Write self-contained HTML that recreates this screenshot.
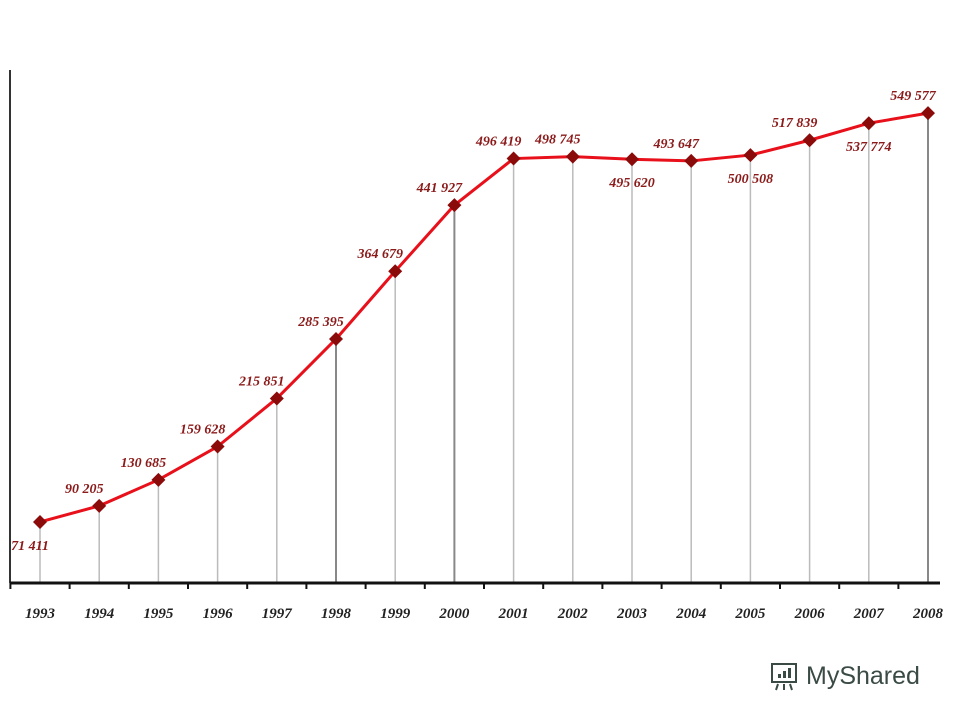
<!DOCTYPE html>
<html><head><meta charset="utf-8"><style>
body{margin:0;background:#fff;width:960px;height:720px;overflow:hidden}
svg{display:block}
.lbl{font-family:"Liberation Serif",serif;font-style:italic;font-weight:bold;font-size:14px;fill:#8b1a1a}
.yr{font-family:"Liberation Serif",serif;font-style:italic;font-weight:bold;font-size:15px;fill:#222}
</style></head><body>
<svg id="chart" width="960" height="720" viewBox="0 0 960 720">
<g id="grid"></g>
<line x1="10" y1="70" x2="10" y2="583" stroke="#333" stroke-width="2"/>
<line x1="10" y1="583" x2="940" y2="583" stroke="#111" stroke-width="3"/>
<g id="ticks"></g>
<path id="line" fill="none" stroke="#e8101a" stroke-width="3" stroke-linejoin="round"/>
<g id="marks"></g>
<g id="labels"></g>
<g id="years"></g>
<g>
<rect x="772" y="664" width="24" height="18" fill="none" stroke="#3a4a44" stroke-width="2"/>
<rect x="778" y="674" width="3" height="4" fill="#3a4a44"/><rect x="783" y="671" width="3" height="7" fill="#3a4a44"/><rect x="788" y="668" width="3" height="10" fill="#3a4a44"/>
<line x1="778" y1="684" x2="776" y2="690" stroke="#3a4a44" stroke-width="2"/><line x1="784" y1="684" x2="784" y2="690" stroke="#3a4a44" stroke-width="2"/><line x1="790" y1="684" x2="792" y2="690" stroke="#3a4a44" stroke-width="2"/>
<text x="806" y="684" font-family="Liberation Sans,sans-serif" font-size="25" fill="#3a4a44">MyShared</text>
</g>
</svg>
<script>
const years=["1993","1994","1995","1996","1997","1998","1999","2000","2001","2002","2003","2004","2005","2006","2007","2008"];
const values=[71411,90205,120685,159628,215851,285395,364679,441927,496419,498745,495620,493647,500508,517839,537774,549577];
const valueLabels=["71 411","90 205","130 685","159 628","215 851","285 395","364 679","441 927","496 419","498 745","495 620","493 647","500 508","517 839","537 774","549 577"];
const labelBelow=[1,0,0,0,0,0,0,0,0,0,1,0,1,0,1,0];
const NS="http://www.w3.org/2000/svg";
const x=i=>40+i*(888/(years.length-1));
const y=v=>583-v*0.000855;
function mk(tag,attrs,parent){const e=document.createElementNS(NS,tag);for(const k in attrs)e.setAttribute(k,attrs[k]);document.getElementById(parent).appendChild(e);return e;}
let d="";
values.forEach((v,i)=>{
 const dark=(i===5||i===7||i===15);
 const g=mk("line",{x1:x(i),y1:y(v),x2:x(i),y2:583,stroke:dark?"#888":"#bbb","stroke-width":dark?2:1.5},"grid");
 
 
 d+=(i?"L":"M")+x(i)+","+y(v);
});
document.getElementById("line").setAttribute("d",d);
for(let i=0;i<years.length;i++){
 const t=mk("line",{x1:x(i)-29.6,y1:583,x2:x(i)-29.6,y2:589,stroke:"#111","stroke-width":2},"ticks");
 
 
}
values.forEach((v,i)=>{
 const cx=x(i),cy=y(v);
 const m=mk("polygon",{points:`${cx},${cy-7} ${cx+7},${cy} ${cx},${cy+7} ${cx-7},${cy}`,fill:"#8b0a0a"},"marks");
 
 
 const below=labelBelow[i];
 const l=mk("text",{x:below?cx-(i===0?10:0):cx-15,y:below?cy+28:cy-13,"text-anchor":"middle",class:"lbl"},"labels");
 l.textContent=valueLabels[i];
 
 
 const yl=mk("text",{x:cx,y:618,"text-anchor":"middle",class:"yr"},"years");
 yl.textContent=years[i];
 
 
});
</script>
</body></html>
